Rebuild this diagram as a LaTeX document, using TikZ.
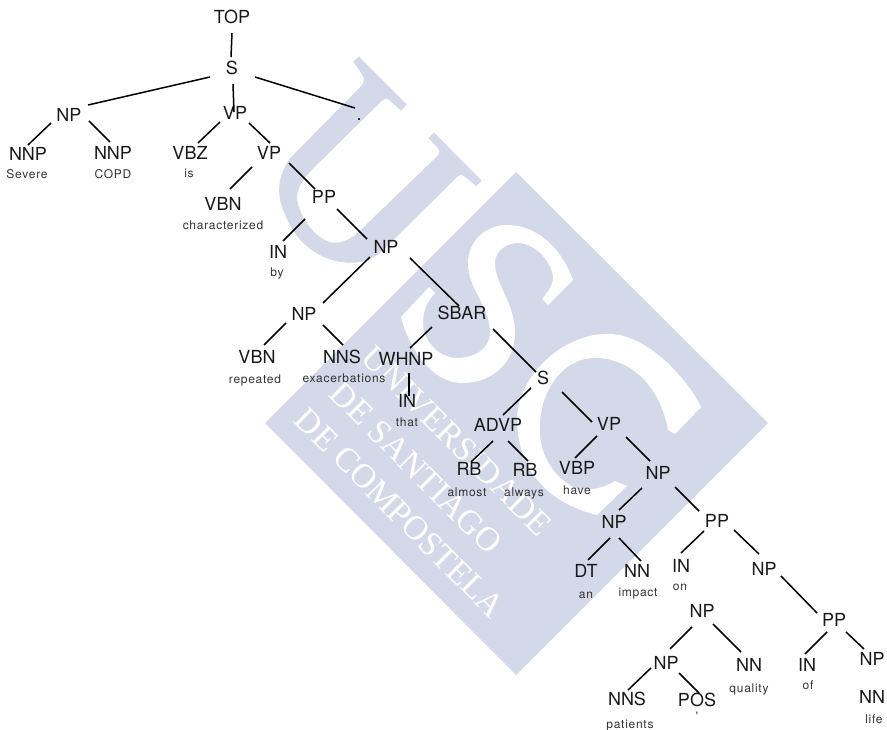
\documentclass[tikz,border=0pt]{standalone}
\usepackage{fontspec}
\setmainfont{TeX Gyre Heros}
\newfontfamily\wmfont{Liberation Serif}
\newfontfamily\smallfont[LetterSpace=6]{TeX Gyre Heros}
\definecolor{wmblue}{HTML}{D3D9E8}
\newcommand{\conn}[4]{\draw[edge] ([shift={(#2)}]#1.center) -- ([shift={(#4)}]#3.center);}
\tikzset{
  x=1pt,y=-1pt,
  lab/.style={inner sep=0pt,font=\fontsize{18}{18}\selectfont,text height=15pt,text depth=0pt,text=black!90},
  word/.style={inner sep=0pt,font=\smallfont\fontsize{12}{12}\selectfont,text height=10pt,text depth=2pt,text=black!80},
  edge/.style={line width=1.5pt,black},
  wmtext/.style={inner sep=0pt,rotate=-45,text=white,font=\wmfont\fontsize{34}{34}\selectfont}
}
\begin{document}
\begin{tikzpicture}
\useasboundingbox (0,0) rectangle (887,730);
\fill[white] (0,0) rectangle (887,730);
% watermark
\path[fill=wmblue] (516,172) coordinate (dN) -- (768,423) coordinate (dE) -- (516,675) coordinate (dS) -- (265,423) coordinate (dW) -- cycle;
\begin{scope}[shift={(260,50)},x=0.33333pt,y=-0.33333pt]
\fill[wmblue] (280,35) -- (297,20) -- (440,163) -- (423,182) -- (388,150) .. controls (378,143) and (372,147) .. (365,153) -- (170,345) .. controls (125,390) and (100,425) .. (115,465) .. controls (130,520) and (180,578) .. (225,578) .. controls (255,578) and (280,562) .. (300,542) -- (530,320) .. controls (542,308) and (540,300) .. (530,290) -- (505,265) -- (522,248) -- (665,392) -- (648,408) -- (612,378) .. controls (605,372) and (598,374) .. (590,382) -- (370,600) .. controls (335,632) and (300,640) .. (265,638) .. controls (190,635) and (120,590) .. (85,515) .. controls (55,455) and (40,400) .. (90,325) -- (300,112) .. controls (315,97) and (315,85) .. (305,72) -- cycle;
\end{scope}
\fill[white] (573,280) .. controls (560,245) and (535,225) .. (507,225) .. controls (485,225) and (468,242) .. (468,263) .. controls (468,290) and (490,305) .. (490,333) .. controls (490,348) and (475,358) .. (457,358) .. controls (440,358) and (423,342) .. (423,323) .. controls (423,310) and (428,300) .. (435,293) -- (429,287) -- (401,317) .. controls (408,345) and (430,383) .. (462,383) .. controls (495,383) and (515,360) .. (515,333) .. controls (515,303) and (495,285) .. (495,263) .. controls (495,252) and (505,243) .. (518,243) .. controls (535,243) and (552,262) .. (553,277) .. controls (553,285) and (548,292) .. (542,299) -- (548,305) -- cycle;
\fill[white] (701,407) .. controls (690,383) and (650,335) .. (610,334) .. controls (565,332) and (517,375) .. (517,420) .. controls (517,455) and (535,500) .. (597,515) -- (627,486) -- (615,481) .. controls (600,490) and (585,491) .. (575,488) .. controls (550,475) and (538,450) .. (540,425) .. controls (540,395) and (560,358) .. (595,358) .. controls (630,358) and (660,385) .. (668,430) -- (675,434) -- cycle;
\node[wmtext] (wm1) at (457,441) {UNIVERSIDADE};
\node[wmtext] (wm2) at (416,468) {DE SANTIAGO};
\node[wmtext] (wm3) at (400,513) {DE COMPOSTELA};
% categories
\node[lab] (top) at (232,16) {TOP};
\node[lab] (s1) at (232,67) {S};
\node[lab] (np1) at (69,114) {NP};
\node[lab] (vp1) at (235,112) {VP};
\node[lab] (dot) at (359,113.5) {.};
\node[lab] (nnp1) at (28,153) {NNP};
\node[lab] (nnp2) at (113,152) {NNP};
\node[lab] (vbz) at (190,152) {VBZ};
\node[lab] (vp2) at (269,152) {VP};
\node[lab] (vbn1) at (223,203) {VBN};
\node[lab] (pp1) at (324,196) {PP};
\node[lab] (in1) at (278,251) {IN};
\node[lab] (np2) at (386,246) {NP};
\node[lab] (np3) at (304,313) {NP};
\node[lab] (sbar) at (462,312) {SBAR};
\node[lab] (vbn2) at (257,356) {VBN};
\node[lab] (nns1) at (342,356) {NNS};
\node[lab] (whnp) at (406,358) {WHNP};
\node[lab] (in2) at (407,400) {IN};
\node[lab] (s2) at (543,377) {S};
\node[lab] (advp) at (498,424) {ADVP};
\node[lab] (vp3) at (609,423) {VP};
\node[lab] (rb1) at (469,468) {RB};
\node[lab] (rb2) at (525,469) {RB};
\node[lab] (vbp) at (577,467) {VBP};
\node[lab] (np4) at (658,472) {NP};
\node[lab] (np5) at (614,521) {NP};
\node[lab] (pp2) at (717,520) {PP};
\node[lab] (dt) at (586,570) {DT};
\node[lab] (nn1) at (637,570) {NN};
\node[lab] (in3) at (681,565) {IN};
\node[lab] (np6) at (764,568) {NP};
\node[lab] (np7) at (702,610) {NP};
\node[lab] (pp3) at (834,619) {PP};
\node[lab] (np8) at (666,662) {NP};
\node[lab] (nn2) at (749,664) {NN};
\node[lab] (in4) at (807,664) {IN};
\node[lab] (np9) at (872,658) {NP};
\node[lab] (nn3) at (872,696) {NN};
\node[lab] (nns2) at (627,698) {NNS};
\node[lab] (pos) at (697,699) {POS};
% words
\node[word] (w1) at (27,175) {Severe};
\node[word] (w2) at (113,175) {COPD};
\node[word] (w3) at (189,174) {is};
\node[word] (w4) at (223,226) {characterized};
\node[word] (w5) at (277,273) {by};
\node[word] (w6) at (255,379) {repeated};
\node[word] (w7) at (344,378) {exacerbations};
\node[word] (w8) at (407,422) {that};
\node[word] (w9) at (467,492) {almost};
\node[word] (w10) at (524,492) {always};
\node[word] (w11) at (577,490) {have};
\node[word] (w12) at (586,594) {an};
\node[word] (w13) at (638,592) {impact};
\node[word] (w14) at (680,586) {on};
\node[word] (w15) at (749,688) {quality};
\node[word] (w16) at (808,685) {of};
\node[word] (w17) at (874,719) {life};
\node[word] (w18) at (630,724) {patients};
\node[word] (w19) at (697,716) {'};
% connectors
\conn{top}{0,17}{s1}{-1,-10}
\conn{s1}{-22,10}{np1}{19,-9}
\conn{s1}{1,17}{vp1}{-1,0}
\conn{s1}{23,10}{dot}{-4,-5.5}
\conn{np1}{-18,9}{nnp1}{0,-8}
\conn{np1}{20,7}{nnp2}{-3,-10}
\conn{vp1}{-15,10}{vbz}{8,-9}
\conn{vp1}{14,11}{vp2}{1,-9}
\conn{vp2}{-17,15}{vbn1}{7,-14}
\conn{vp2}{20,11}{pp1}{-9,-7}
\conn{pp1}{-19,23}{in1}{5,-10}
\conn{pp1}{13,13}{np2}{-19,-7}
\conn{np2}{-16,11}{np3}{19,-10}
\conn{np2}{24,12}{sbar}{-3,-6}
\conn{np3}{-18,10}{vbn2}{7,-11}
\conn{np3}{19,12}{nns1}{1,-11}
\conn{sbar}{-30,15}{whnp}{4,-10}
\conn{sbar}{31,17}{s2}{-7,-5}
\conn{whnp}{3,15}{in2}{2,-4}
\conn{s2}{-12,11}{advp}{5,-9}
\conn{s2}{19,15}{vp3}{-17,-1}
\conn{advp}{-5,17}{rb1}{2,-6}
\conn{advp}{10,17}{rb2}{3,-8}
\conn{vp3}{-12,13}{vbp}{-2,-9}
\conn{vp3}{17,14}{np4}{-8,-11}
\conn{np4}{-16,16}{np5}{5,-11}
\conn{np4}{17,15}{pp2}{-18,-9}
\conn{np5}{-4,17}{dt}{2,-10}
\conn{np5}{5,17}{nn1}{4,-9}
\conn{pp2}{-13,11}{in3}{0,-12}
\conn{pp2}{17,10}{np6}{-5,-14}
\conn{np6}{17,8}{pp3}{-17,-6}
\conn{np7}{-10,17}{np8}{4,-13}
\conn{np7}{11,14}{nn2}{-8,-12}
\conn{pp3}{-7,13}{in4}{-2,-10}
\conn{pp3}{12,13}{np9}{-8,-9}
\conn{np8}{-15,6}{nns2}{1,-8}
\conn{np8}{13,11}{pos}{2,-6}
\end{tikzpicture}
\end{document}
